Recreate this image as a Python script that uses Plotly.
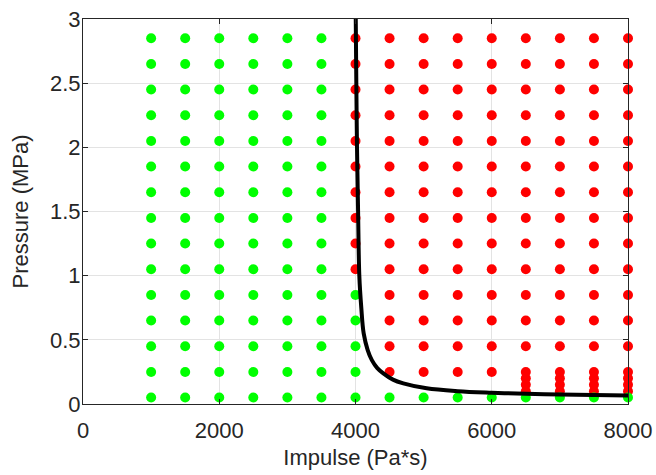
import plotly.graph_objects as go

# Test grid (impulse in Pa*s, pressure in MPa)
impulse_cols = [1000, 1500, 2000, 2500, 3000, 3500, 4000, 4500, 5000, 5500, 6000, 6500, 7000, 7500, 8000]
pressure_rows = [0.05, 0.25, 0.45, 0.65, 0.85, 1.05, 1.25, 1.45, 1.65, 1.85, 2.05, 2.25, 2.45, 2.65, 2.85]
# lowest pressure at which each column is classed as damaged (None = never)
first_damaged = [None, None, None, None, None, None, 1.05, 0.25, 0.25, 0.25, 0.25, 0.10, 0.10, 0.10, 0.10]
# extra refined rows tested near the bottom for the high-impulse columns
extra_rows = [0.10, 0.15, 0.20]

# P-I threshold curve
curve_impulse = [4003, 4012, 4022, 4038, 4056, 4085, 4120, 4179, 4240, 4320, 4408, 4550, 4702, 5045, 5500, 6000, 6500, 7000, 7500, 8000]
curve_pressure = [3.05, 2.5, 2.0, 1.5, 1.0, 0.75, 0.55, 0.42, 0.342, 0.28, 0.239, 0.19, 0.161, 0.122, 0.100, 0.088, 0.080, 0.074, 0.070, 0.067]

safe_x, safe_y, dmg_x, dmg_y = [], [], [], []
for imp, thr in zip(impulse_cols, first_damaged):
    rows = sorted(set(pressure_rows + (extra_rows if thr is not None and thr <= 0.10 else [])))
    for p in rows:
        if thr is not None and p >= thr - 1e-9:
            dmg_x.append(imp); dmg_y.append(p)
        else:
            safe_x.append(imp); safe_y.append(p)

fig = go.Figure()
fig.add_trace(go.Scatter(x=dmg_x, y=dmg_y, mode="markers", cliponaxis=False,
                         marker=dict(color="#ff0000", size=10, line=dict(width=0)), showlegend=False))
fig.add_trace(go.Scatter(x=safe_x, y=safe_y, mode="markers", cliponaxis=False,
                         marker=dict(color="#00ff00", size=10, line=dict(width=0)), showlegend=False))
fig.add_trace(go.Scatter(x=curve_impulse, y=curve_pressure, mode="lines", line_shape="spline",
                         line=dict(color="black", width=4), showlegend=False))

axis_common = dict(showline=True, linecolor="#262626", linewidth=1, mirror="ticks",
                   ticks="inside", ticklen=5, tickcolor="#262626", tickwidth=1,
                   showgrid=True, gridcolor="#e3e3e3", gridwidth=1, zeroline=False,
                   automargin=False,
                   tickfont=dict(family="Liberation Sans, Arial", size=22, color="#262626"),
                   title_font=dict(family="Liberation Sans, Arial", size=22, color="#262626"))

fig.update_xaxes(range=[0, 8000], tickvals=[0, 2000, 4000, 6000, 8000],
                 ticklabelstandoff=7,
                 title_text="Impulse (Pa*s)", title_standoff=7, **axis_common)
fig.update_yaxes(range=[0, 3], tickvals=[0, 0.5, 1, 1.5, 2, 2.5, 3],
                 ticktext=["0", "0.5", "1", "1.5", "2", "2.5", "3"],
                 ticklabelstandoff=-3,
                 title_text="Pressure (MPa)", title_standoff=15, **axis_common)

fig.update_layout(width=656, height=475, margin=dict(l=83, r=28, t=19, b=71),
                  paper_bgcolor="white", plot_bgcolor="white")

fig.write_html("out.html", config={"displayModeBar": False},
               post_script="document.body.style.margin='0px';")
